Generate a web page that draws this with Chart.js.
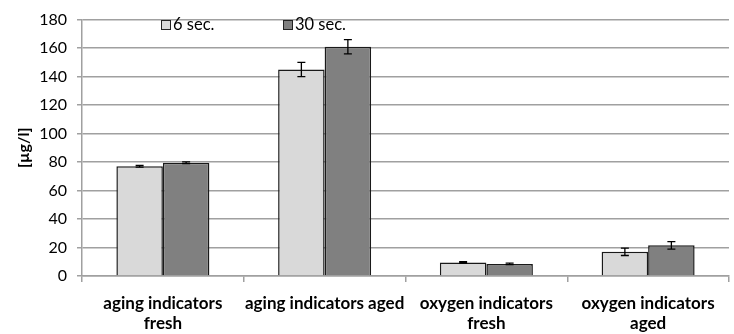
<!DOCTYPE html>
<html>
<head>
<meta charset="utf-8">
<script src="https://cdn.jsdelivr.net/npm/chart.js@4/dist/chart.umd.min.js"></script>
<style>
  html, body { margin: 0; padding: 0; background: #fff; }
  #wrap { position: relative; width: 734px; height: 334px; }
</style>
</head>
<body>
<div id="wrap"><canvas id="c" width="734" height="334"></canvas></div>
<script>
const categories = [
  ['aging indicators', 'fresh'],
  'aging indicators aged',
  ['oxygen indicators', 'fresh'],
  ['oxygen indicators', 'aged']
];
const seriesNames = ['6 sec.', '30 sec.'];
const values6 = [77, 145, 9.5, 17];
const values30 = [79.5, 161, 8.5, 21.5];
const err6 = [0.6, 5, 0.5, 2.6];
const err30 = [0.6, 5, 0.5, 2.6];
const yTicks = [0, 20, 40, 60, 80, 100, 120, 140, 160, 180];

const errors = [err6, err30];
const FONT = 'Lato, "Open Sans", sans-serif';

const errorBarPlugin = {
  id: 'errorBars',
  afterDatasetsDraw(chart) {
    const ctx = chart.ctx;
    const y = chart.scales.y;
    ctx.save();
    ctx.strokeStyle = '#000';
    ctx.lineWidth = 1.3;
    chart.data.datasets.forEach((ds, di) => {
      const meta = chart.getDatasetMeta(di);
      meta.data.forEach((bar, i) => {
        const v = ds.data[i], e = errors[di][i];
        const yt = y.getPixelForValue(v + e);
        const yb = y.getPixelForValue(v - e);
        const x = bar.x;
        ctx.beginPath();
        ctx.moveTo(x, yt); ctx.lineTo(x, yb);
        ctx.moveTo(x - 4, yt); ctx.lineTo(x + 4, yt);
        ctx.moveTo(x - 4, yb); ctx.lineTo(x + 4, yb);
        ctx.stroke();
      });
    });
    ctx.restore();
  }
};

const legendPlugin = {
  id: 'innerLegend',
  afterDraw(chart) {
    const ctx = chart.ctx;
    const items = [
      { x: 161, text: seriesNames[0], color: '#d9d9d9' },
      { x: 283, text: seriesNames[1], color: '#808080' }
    ];
    ctx.save();
    ctx.font = '16.5px ' + FONT;
    ctx.textBaseline = 'middle';
    items.forEach(it => {
      ctx.fillStyle = it.color;
      ctx.fillRect(it.x, 20, 9, 9);
      ctx.strokeStyle = '#222';
      ctx.lineWidth = 1;
      ctx.strokeRect(it.x + 0.5, 20.5, 9, 9);
      ctx.fillStyle = '#000';
      ctx.fillText(it.text, it.x + 12, 25);
    });
    ctx.restore();
  }
};

new Chart(document.getElementById('c'), {
  type: 'bar',
  data: {
    labels: categories,
    datasets: [
      { label: seriesNames[0], data: values6, backgroundColor: '#d9d9d9', borderColor: '#1a1a1a', borderWidth: 1.5, barPercentage: 1, categoryPercentage: 0.575 },
      { label: seriesNames[1], data: values30, backgroundColor: '#808080', borderColor: '#1a1a1a', borderWidth: 1.5, barPercentage: 1, categoryPercentage: 0.575 }
    ]
  },
  options: {
    responsive: false,
    animation: false,
    devicePixelRatio: 1,
    layout: { padding: { top: 11, right: 5, left: 14, bottom: 0 } },
    plugins: { legend: { display: false }, tooltip: { enabled: false } },
    scales: {
      x: {
        offset: true,
        grid: { display: true, drawOnChartArea: false, drawTicks: true, tickLength: 6, color: '#a0a0a0', lineWidth: 1.5, offset: true },
        border: { display: true, color: '#a0a0a0', width: 1.5 },
        ticks: { color: '#000', font: { family: FONT, size: 17, weight: 'bold', lineHeight: 1.2 }, padding: 11, maxRotation: 0, autoSkip: false },
        afterFit(scale) { scale.height = 58; }
      },
      y: {
        min: 0, max: 180,
        afterBuildTicks(scale) { scale.ticks = yTicks.map(v => ({ value: v })); },
        grid: { color: '#a0a0a0', lineWidth: 1.5, drawTicks: true, tickLength: 5 },
        border: { display: true, color: '#a0a0a0', width: 1.5 },
        ticks: { color: '#000', font: { family: FONT, size: 16 }, padding: 10 },
        title: { display: true, text: '[µg/l]', color: '#000', font: { family: FONT, size: 16, weight: 'bold' }, padding: { top: 0, bottom: 0 } },
        afterFit(scale) { scale.width = 68; }
      }
    }
  },
  plugins: [errorBarPlugin, legendPlugin]
});
</script>
</body>
</html>
